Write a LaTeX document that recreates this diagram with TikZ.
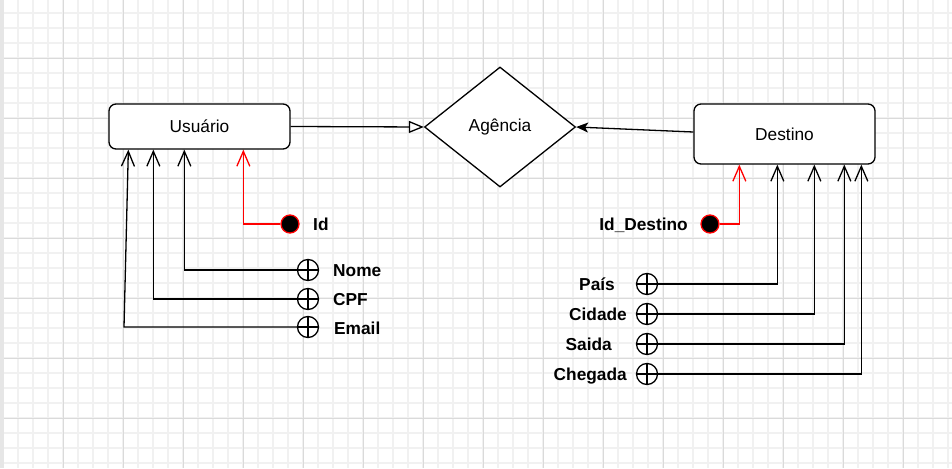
\documentclass[tikz,border=0pt]{standalone}
\usepackage{fontspec}
\setmainfont{Liberation Sans}
\usetikzlibrary{arrows.meta,shapes.geometric,calc}
\definecolor{minorgrid}{HTML}{F1F1F1}
\definecolor{majorgrid}{HTML}{DADADA}
\definecolor{leftstrip}{HTML}{E6E6E6}
\tikzset{
  txt/.style={font=\fontsize{17.3}{20}\selectfont},
  ent/.style={txt, draw, line width=1.3pt, rounded corners=7pt, minimum width=181pt,
    minimum height=45pt, inner sep=0pt, fill=white},
  rel/.style={txt, draw, diamond, line width=1.3pt, minimum width=151pt,
    minimum height=120pt, inner sep=0pt, fill=white},
  keyattr/.style={circle, draw=red, fill=black, line width=1.3pt, minimum size=18pt, inner sep=0pt},
  plainattr/.style={circle, draw, line width=1.3pt, minimum size=21pt, inner sep=0pt, fill=white,
    path picture={\draw[line width=1.3pt]
      (path picture bounding box.north) -- (path picture bounding box.south)
      (path picture bounding box.west) -- (path picture bounding box.east);}},
  lbl/.style={font=\bfseries\fontsize{17.3}{20}\selectfont, inner sep=0pt},
  link/.style={line width=1.3pt, -{Straight Barb[length=15pt,width=13pt]}},
  keylink/.style={link, draw=red},
}
\begin{document}
\begin{tikzpicture}[x=1pt,y=-1pt]
\useasboundingbox (0,0) rectangle (952,468);
\fill[white] (0,0) rectangle (952,468);
% grid
\foreach \x in {3,18,...,948} \draw[minorgrid, line width=1.2pt] (\x,0) -- (\x,468);
\foreach \y in {13,28,...,463} \draw[minorgrid, line width=1.2pt] (0,\y) -- (952,\y);
\foreach \x in {63,123,...,903} \draw[majorgrid, line width=0.9pt] (\x,0) -- (\x,468);
\foreach \y in {58,118,...,418} \draw[majorgrid, line width=0.9pt] (0,\y) -- (952,\y);
\fill[leftstrip] (0,0) rectangle (4,468);

% entities and relation
\node[ent] (usuario) at (199.5,126.5) {Usuário};
\node[ent, minimum height=60pt] (destino) at (784.5,134) {Destino};
\node[rel] (agencia) at (500,127) {Agência};

\draw[line width=1.3pt, -{Triangle[length=15pt,width=12pt,fill=white]}] (usuario.east) -- (agencia.west);
\draw[line width=1.3pt, -{Stealth[length=12pt,width=10pt,inset=3pt]}] ([yshift=2pt]destino.west) -- (agencia.east);

% Usuario attributes
\node[keyattr] (cid) at (290,224) {};
\node[lbl, anchor=base west] (lid) at (313,230) {Id};
\node[plainattr] (cnome) at (308,270) {};
\node[lbl, anchor=base west] (lnome) at (333,276) {Nome};
\node[plainattr] (ccpf) at (308,299) {};
\node[lbl, anchor=base west] (lcpf) at (333,305) {CPF};
\node[plainattr] (cemail) at (308,327) {};
\node[lbl, anchor=base west] (lemail) at (334,334) {Email};

\draw[keylink] (cid.west) -| ([xshift=135pt]usuario.south west);
\draw[link] (cnome.west) -| ([xshift=76pt]usuario.south west);
\draw[link] (ccpf.west) -| ([xshift=45pt]usuario.south west);
\coordinate (emailbend) at (124,327);
\draw[link] (cemail.west) -- (emailbend) -- ([xshift=20pt]usuario.south west);

% Destino attributes
\node[keyattr] (cidd) at (710,224) {};
\node[lbl, anchor=base east] (lidd) at (688,230) {Id\_Destino};
\node[plainattr] (cpais) at (647,284) {};
\node[lbl, anchor=base east] (lpais) at (615,290) {País};
\node[plainattr] (ccidade) at (647,314) {};
\node[lbl, anchor=base east] (lcidade) at (627,320) {Cidade};
\node[plainattr] (csaida) at (647,344) {};
\node[lbl, anchor=base east] (lsaida) at (612,350) {Saida};
\node[plainattr] (cchegada) at (647,374) {};
\node[lbl, anchor=base east] (lchegada) at (627,380) {Chegada};

\draw[keylink] (cidd.east) -| ([xshift=46pt]destino.south west);
\draw[link] (cpais.east) -| ([xshift=84pt]destino.south west);
\draw[link] (ccidade.east) -| ([xshift=121pt]destino.south west);
\draw[link] (csaida.east) -| ([xshift=151pt]destino.south west);
\draw[link] (cchegada.east) -| ([xshift=168pt]destino.south west);
\end{tikzpicture}
\end{document}
